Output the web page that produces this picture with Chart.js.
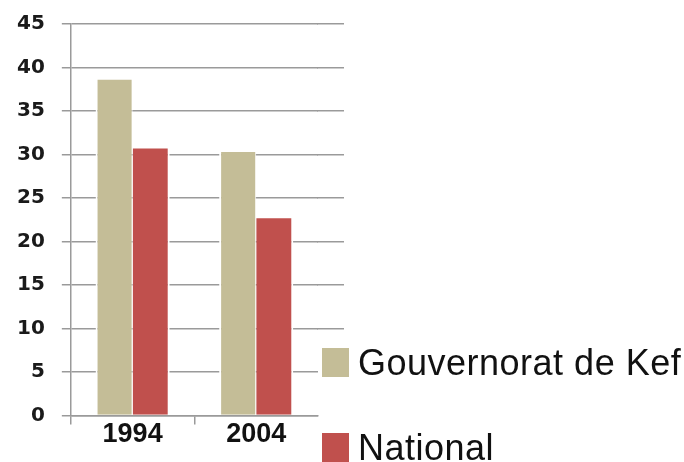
<!DOCTYPE html>
<html lang="fr">
<head>
  <meta charset="UTF-8">
  <title>Gouvernorat de Kef vs National</title>
  <style>
    body {
      margin: 0;
      background: #fff;
    }

    .wrap {
      position: relative;
      width: 684px;
      height: 462px;
      overflow: hidden;
    }

    /* legende en HTML, placee a droite du graphique */
    #legend {
      position: absolute;
      left: 322px;
      top: 348px;
    }

    .legend-item {
      display: flex;
      align-items: center;
      height: 29px;
      margin-bottom: 56px;
    }

    .legend-box {
      width: 27px;
      height: 29px;
      margin-right: 9px;
    }

    .legend-text {
      font-family: 'Liberation Sans', Arial, sans-serif;
      font-size: 36px;
      line-height: 29px;
      letter-spacing: 0.5px;
      color: #111;
      white-space: nowrap;
    }
  </style>
  <script src="https://cdn.jsdelivr.net/npm/chart.js"></script>
</head>

<body>
  <div class="wrap">
    <canvas id="myChart" width="684" height="462"></canvas>
    <div id="legend"></div>
  </div>

  <script>
    // données
    const years = ['1994', '2004'];
    const kefValues = [38.7, 30.4];
    const nationalValues = [30.8, 22.8];
    const seriesNames = ['Gouvernorat de Kef', 'National'];
    const yTicks = [0, 5, 10, 15, 20, 25, 30, 35, 40, 45];

    const gridColor = '#9a9a9a';
    const gridWidth = 1.5;

    // prolonge les lignes de grille horizontales vers la droite (sauf 0 et 5)
    const gridExtend = {
      id: 'gridExtend',
      beforeDatasetsDraw(chart) {
        const y = chart.scales.y;
        const ctx = chart.ctx;
        const half = gridWidth / 2;
        ctx.save();
        ctx.strokeStyle = gridColor;
        ctx.lineWidth = gridWidth;
        y.ticks.forEach(t => {
          if (t.value < 10) return;
          // même alignement au pixel que Chart.js
          const py = Math.round(y.getPixelForValue(t.value) - half) + half;
          ctx.beginPath();
          ctx.moveTo(chart.chartArea.right - 1, py);
          ctx.lineTo(chart.chartArea.right + 26, py);
          ctx.stroke();
        });
        ctx.restore();
      }
    };

    // legende HTML construite à partir des datasets
    const htmlLegend = {
      id: 'htmlLegend',
      afterUpdate(chart) {
        const box = document.getElementById('legend');
        box.innerHTML = '';
        chart.data.datasets.forEach(ds => {
          const item = document.createElement('div');
          item.className = 'legend-item';
          const sw = document.createElement('span');
          sw.className = 'legend-box';
          sw.style.background = ds.backgroundColor;
          const txt = document.createElement('span');
          txt.className = 'legend-text';
          txt.textContent = ds.label;
          item.appendChild(sw);
          item.appendChild(txt);
          box.appendChild(item);
        });
      }
    };

    const ctx = document.getElementById('myChart').getContext('2d');
    new Chart(ctx, {
      type: 'bar',
      data: {
        labels: years,
        datasets: [
          {
            label: seriesNames[0],
            data: kefValues,
            backgroundColor: '#C4BD97',
            borderColor: '#ffffff',
            borderWidth: { left: 2, right: 1, top: 1, bottom: 0 },
            borderSkipped: false,
            categoryPercentage: 0.6,
            barPercentage: 1.0
          },
          {
            label: seriesNames[1],
            data: nationalValues,
            backgroundColor: '#C0504D',
            borderColor: '#ffffff',
            borderWidth: { left: 0, right: 2, top: 1, bottom: 0 },
            borderSkipped: false,
            categoryPercentage: 0.6,
            barPercentage: 1.0
          }
        ]
      },
      options: {
        responsive: false,
        animation: false,
        layout: {
          padding: { left: 0, right: 366, top: 24, bottom: 17 }
        },
        plugins: {
          legend: { display: false },
          tooltip: { enabled: false }
        },
        scales: {
          x: {
            grid: {
              drawOnChartArea: false,
              tickLength: 9,
              lineWidth: gridWidth,
              color: c => (c.tick ? gridColor : 'rgba(0,0,0,0)')
            },
            border: { color: gridColor, width: gridWidth },
            ticks: {
              padding: -6,
              color: '#111',
              font: { family: "'Liberation Sans', Arial, sans-serif", size: 27, weight: 'bold' }
            }
          },
          y: {
            min: 0,
            max: 45,
            afterBuildTicks(scale) {
              scale.ticks = yTicks.map(v => ({ value: v }));
            },
            afterFit(scale) {
              // la marge du haut est réglée par layout.padding
              scale.paddingTop = 0;
              scale.paddingBottom = 0;
            },
            grid: {
              tickLength: 9,
              lineWidth: gridWidth,
              color: gridColor
            },
            border: { color: gridColor, width: gridWidth },
            ticks: {
              padding: 17,
              color: '#1a1a1a',
              font: { family: "'DejaVu Sans', sans-serif", size: 20, weight: 'bold' }
            }
          }
        }
      },
      plugins: [gridExtend, htmlLegend]
    });
  </script>
</body>

</html>
